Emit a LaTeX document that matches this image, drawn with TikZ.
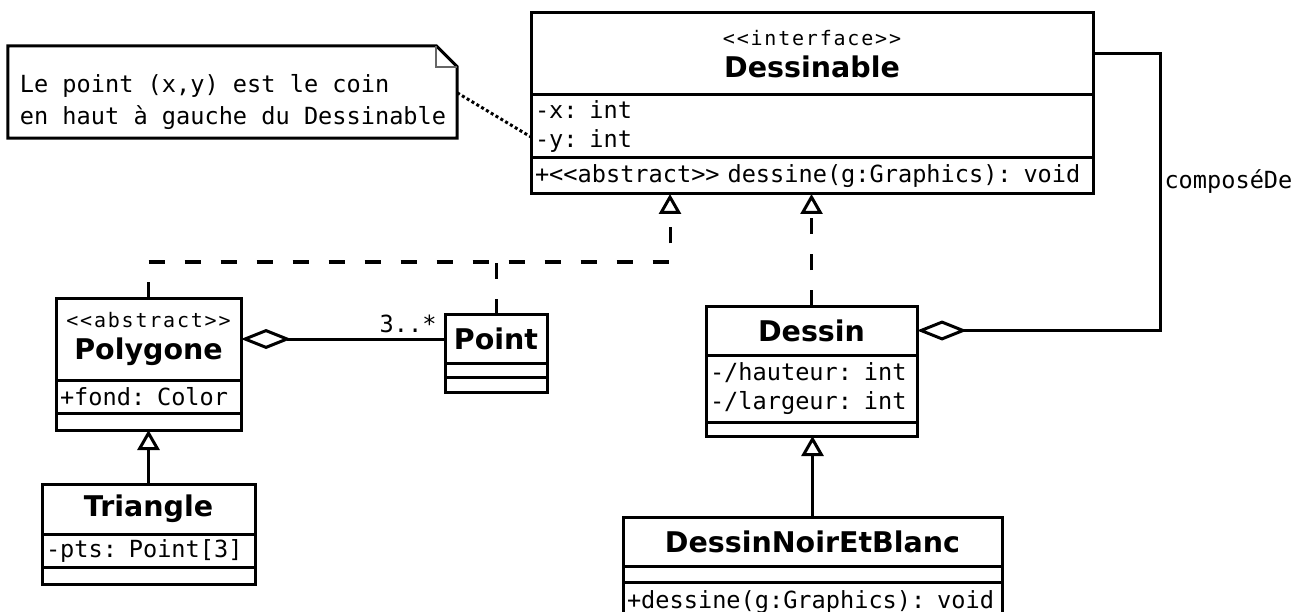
\documentclass[tikz,border=0pt]{standalone}
\usepackage{fontspec}
\setmainfont{DejaVu Sans}
\setmonofont{DejaVu Sans Mono}
\newfontfamily\stereofont[LetterSpace=9]{DejaVu Sans Mono}
\usetikzlibrary{arrows.meta,positioning}
\newcommand\umltitle{\fontsize{28.5}{32}\selectfont\bfseries}
\newcommand\umltext{\fontsize{23.6}{29}\selectfont\ttfamily}
\newcommand\umlstereo{\fontsize{20}{32}\selectfont\mdseries\stereofont}
\tikzset{classhead/.style={draw,line width=3pt,outer sep=0pt,inner sep=4pt,align=center,font=\umltitle},classpart/.style={draw,line width=3pt,outer sep=0pt,inner xsep=4pt,inner ysep=0pt,align=left,font=\umltext},realize/.style={line width=3pt,dash pattern=on 16pt off 20pt,-{Triangle[open,length=20pt,width=22pt]}},dashline/.style={line width=3pt,dash pattern=on 16pt off 20pt},inherit/.style={line width=3pt,-{Triangle[open,length=20pt,width=22pt]}},aggreg/.style={line width=3pt,{Diamond[open,length=50pt,width=20pt]}-},notetext/.style={font=\fontsize{23.6}{32}\selectfont\ttfamily,align=left,inner sep=0pt},noteline/.style={line width=3pt,dash pattern=on 3pt off 2.6pt}}

\begin{document}
\begin{tikzpicture}[x=1pt,y=-1pt]
\path[use as bounding box,fill=white] (0,0) rectangle (1300,612);
\node[classhead,minimum width=562pt,minimum height=82pt] (dsn) at (812,54) {{\umlstereo <<interface>>}\\Dessinable};
\node[classpart,below=0pt of dsn,text width=554pt,minimum height=63pt] (dsn-a) {-x: int\\-y: int};
\node[classpart,below=0pt of dsn-a,text width=554pt,minimum height=36pt] (dsn-m) {+<<abstract>> dessine(g:Graphics): void};
\node[classhead,minimum width=185pt,minimum height=82pt] (poly) at (148.5,339) {{\umlstereo <<abstract>>}\\Polygone};
\node[classpart,below=0pt of poly,text width=177pt,minimum height=33pt] (poly-a) {+fond: Color};
\node[classpart,below=0pt of poly-a,text width=177pt,minimum height=17pt] (poly-m) {};
\node[classhead,minimum width=102pt,minimum height=49pt] (pt) at (496,339) {Point};
\node[classpart,below=0pt of pt,text width=94pt,minimum height=14pt] (pt-a) {};
\node[classpart,below=0pt of pt-a,text width=94pt,minimum height=15pt] (pt-m) {};
\node[classhead,minimum width=211pt,minimum height=49pt] (dessin) at (811.5,330.5) {Dessin};
\node[classpart,below=0pt of dessin,text width=203pt,minimum height=67pt] (dessin-a) {-/hauteur: int\\-/largeur: int};
\node[classpart,below=0pt of dessin-a,text width=203pt,minimum height=14pt] (dessin-m) {};
\node[classhead,minimum width=213pt,minimum height=50pt] (tri) at (148.5,509) {Triangle};
\node[classpart,below=0pt of tri,text width=205pt,minimum height=33pt] (tri-a) {-pts: Point[3]};
\node[classpart,below=0pt of tri-a,text width=205pt,minimum height=17pt] (tri-m) {};
\node[classhead,minimum width=379pt,minimum height=49pt] (dneb) at (812.5,541.5) {DessinNoirEtBlanc};
\node[classpart,below=0pt of dneb,text width=371pt,minimum height=16pt] (dneb-a) {};
\node[classpart,below=0pt of dneb-a,text width=371pt,minimum height=40pt] (dneb-m) {+dessine(g:Graphics): void};
\node[minimum width=449pt,minimum height=92pt,inner sep=0pt] (note) at (232.5,92) {};
\node[notetext] (note-t) at (233,102) {Le point (x,y) est le coin\\en haut à gauche du Dessinable};
\draw[line width=3pt] (note.north west) -- ([xshift=-21pt]note.north east) -- ([yshift=-21pt]note.north east) -- (note.south east) -- (note.south west) -- cycle;
\draw[line width=1.5pt,black!60] ([xshift=-21pt]note.north east) -- ([xshift=-21pt,yshift=-21pt]note.north east) -- ([yshift=-21pt]note.north east);
\draw[noteline] ([yshift=-47pt]note.north east) -- ([yshift=-10.5pt]dsn-a.west);
\coordinate (mid) at (670,262);
\coordinate (rt) at (1160,0);
\draw[realize] (poly.north) |- (mid) -- (mid |- dsn-m.south);
\draw[dashline] (pt.north) -- (pt.north |- mid);
\draw[realize] (dessin.north) -- (dessin.north |- dsn-m.south);
\draw[inherit] (tri.north) -- (poly-m.south);
\draw[inherit] (dneb.north) -- (dneb.north |- dessin-m.south);
\draw[aggreg] (poly.east) -- node[pos=1,above left,font=\umltext,inner xsep=7pt,inner ysep=5pt] {3..*} (pt.west);
\draw[aggreg] (dessin.east) -- (dessin.east -| rt) |- node[pos=.27,anchor=west,font=\umltext,inner sep=3pt] {composéDe} (dsn.east);
\end{tikzpicture}
\end{document}
